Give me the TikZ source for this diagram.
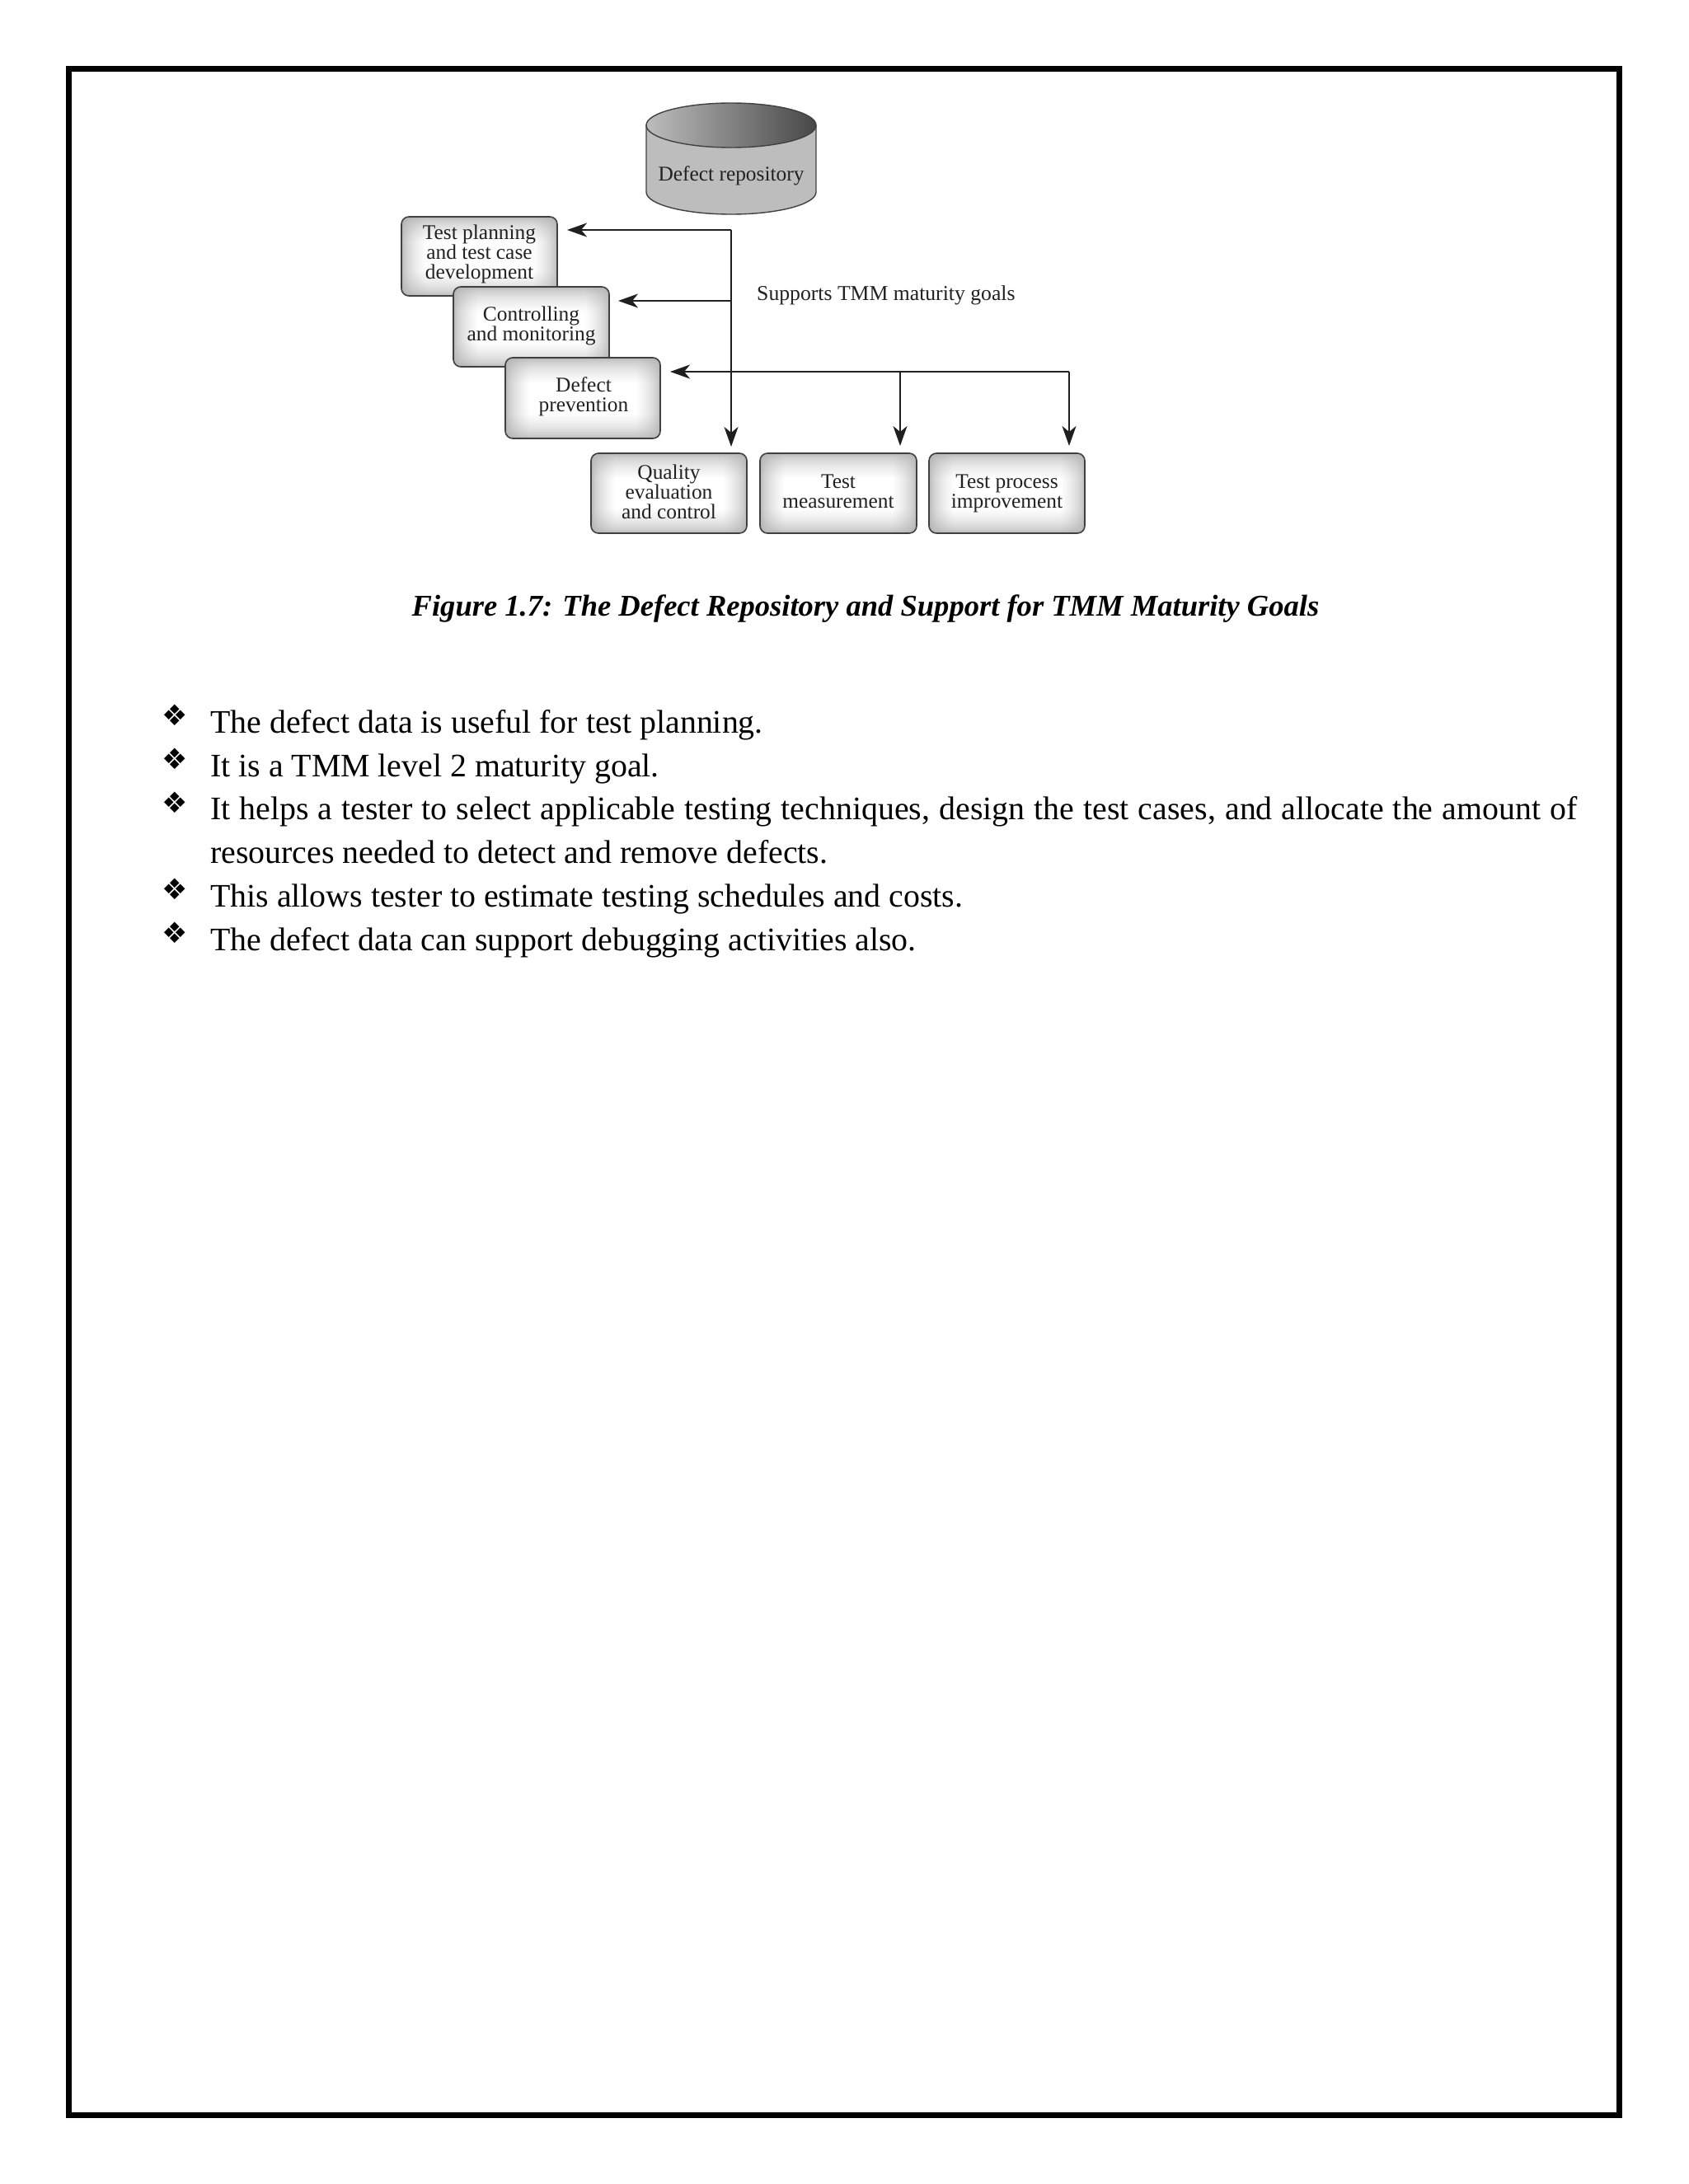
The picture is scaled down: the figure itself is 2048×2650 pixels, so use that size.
\documentclass[tikz,border=0pt]{standalone}
\usepackage{fontspec}
\setmainfont{Liberation Serif}
\newfontfamily\bulletfont{DejaVu Sans}
\usetikzlibrary{arrows.meta}
\pgfdeclarefunctionalshading{boxshade}{\pgfpointorigin}{\pgfpoint{100bp}{100bp}}{}{
  50 sub abs 25 div 1 exch sub 48 mul 30 div dup 1 gt {pop 1} if dup 0 lt {pop 0} if
  exch 50 sub abs 25 div 1 exch sub 95 mul 30 div dup 1 gt {pop 1} if dup 0 lt {pop 0} if
  mul sqrt
  0.32 mul 0.68 add dup dup
}
\definecolor{boxline}{gray}{0.25}
\definecolor{boxtext}{gray}{0.13}
\tikzset{
  x=1pt,y=-1pt,
  procbox/.style={draw=boxline,line width=1.6pt,rounded corners=9pt,shading=boxshade},
  boxlabel/.style={text=boxtext,align=center,inner sep=0pt,font=\fontsize{25.4}{24}\selectfont},
  link/.style={draw=black!88,line width=2.2pt},
  linkarrow/.style={link,-{Stealth[length=24pt,width=17pt,inset=7pt]}},
  bodyline/.style={anchor=base west,inner sep=0pt,font=\fontsize{39.85}{48}\selectfont},
  bulletmark/.style={inner sep=0pt,font=\bulletfont\fontsize{35}{35}\selectfont},
}
\begin{document}
\begin{tikzpicture}
\useasboundingbox (0,0) rectangle (2048,2650);
\fill[white] (0,0) rectangle (2048,2650);
\draw[line width=7pt,miter limit=10] (83.5,83.5) rectangle (1964.5,2566.5);

% cylinder
\path[draw=boxline,line width=1.4pt,left color=black!26,middle color=black!10,right color=black!26]
  (784,152) -- (784,233) arc[start angle=180,end angle=0,x radius=103,y radius=27] -- (990,152) -- cycle;
\path[draw=boxline,line width=1.4pt,left color=black!26,right color=black!72]
  (887,152) ellipse[x radius=103,y radius=27];
\node[boxlabel] (repo) at (887,213) {Defect repository};

% stacked boxes
\path[procbox] (487,263) rectangle (676,359);
\node[boxlabel] (plan) at (581.5,308) {Test planning\\and test case\\development};
\path[procbox] (550,348) rectangle (739,445);
\node[boxlabel] (ctrl) at (644.5,395) {Controlling\\and monitoring};
\path[procbox] (613,434) rectangle (801,532);
\node[boxlabel] (prev) at (708,481) {Defect\\prevention};

% bottom row
\path[procbox] (717,550) rectangle (906,647);
\node[boxlabel] (qual) at (811.5,597) {Quality\\evaluation\\and control};
\path[procbox] (922,550) rectangle (1112,647);
\node[boxlabel] (meas) at (1017,596.5) {Test\\measurement};
\path[procbox] (1127,550) rectangle (1316,647);
\node[boxlabel] (impr) at (1221.5,598.5) {Test process\\improvement};

% connector points
\coordinate (top) at (887,279);
\coordinate (mid) at (887,365);
\coordinate (planTip) at (688,279);
\coordinate (ctrlTip) at (750,365);
\coordinate (qualTip) at (887,542);
\coordinate (prevTip) at (813,451);
\coordinate (measJoin) at (1092,451);
\coordinate (measTip) at (1092,541);
\coordinate (imprJoin) at (1297,451);
\coordinate (imprTip) at (1297,541);

\path[linkarrow] (top) -- (planTip);
\path[linkarrow] (mid) -- (ctrlTip);
\path[linkarrow] (top) -- (qualTip);
\path[linkarrow] (imprJoin) -- (prevTip);
\path[linkarrow] (measJoin) -- (measTip);
\path[linkarrow] (imprJoin) -- (imprTip);

\node[anchor=west,inner sep=0pt,text=boxtext,font=\fontsize{25.7}{24}\selectfont] (supp) at (918,358.5) {Supports TMM maturity goals};

% caption
\node[anchor=base,inner sep=0pt,font=\fontsize{36.55}{40}\selectfont\bfseries\itshape] (cap) at (1050,747) {Figure 1.7: The Defect Repository and Support for TMM Maturity Goals};

% bullets
\node[bulletmark] (b1) at (212,868) {❖};
\node[bulletmark] (b2) at (212,921) {❖};
\node[bulletmark] (b3) at (212,974) {❖};
\node[bulletmark] (b4) at (212,1079) {❖};
\node[bulletmark] (b5) at (212,1132) {❖};

% body text
\node[bodyline] (l1) at (255,889) {The defect data is useful for test planning.};
\node[bodyline] (l2) at (255,942) {It is a TMM level 2 maturity goal.};
\node[bodyline] (l3) at (255,994) {\makebox[1658pt][s]{It helps a tester to select applicable testing techniques, design the test cases, and allocate the amount of}};
\node[bodyline] (l4) at (255,1047) {resources needed to detect and remove defects.};
\node[bodyline] (l5) at (255,1100) {This allows tester to estimate testing schedules and costs.};
\node[bodyline] (l6) at (255,1153) {The defect data can support debugging activities also.};
\end{tikzpicture}
\end{document}
